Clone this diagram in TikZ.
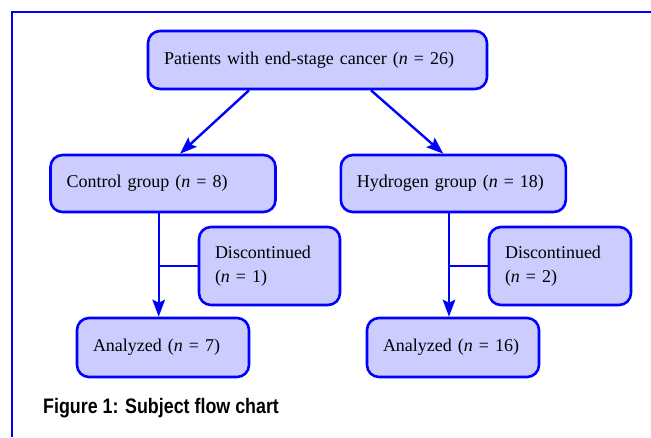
\documentclass[tikz,border=0pt]{standalone}
\usepackage{fontspec}
\setmainfont{Liberation Serif}
\newfontfamily\capfont[FakeStretch=0.85]{Liberation Sans}
\usepackage{tikz}
\usetikzlibrary{arrows.meta}

\definecolor{flowblue}{RGB}{0,0,255}
\definecolor{flowfill}{RGB}{204,204,255}

\tikzset{
    box/.style={draw=flowblue, fill=flowfill, line width=2.6pt, rounded corners=12pt,
        inner xsep=16pt, align=left, font=\fontsize{18}{24}\selectfont},
    link/.style={draw=flowblue, line width=2.4pt}
}

\begin{document}
\begin{tikzpicture}[>={Stealth[length=17pt, width=12.5pt, inset=3pt]}, x=1pt, y=-1pt]
    \useasboundingbox (0,0) rectangle (651,437);
    \draw[flowblue, line width=1.8pt] (651,12.3) -- (11.7,12.3) -- (11.7,437);

    \node[box, text width=307pt, minimum height=58pt] (patients) at (317.5,60) {Patients with end-stage cancer (\textit{n} = 26)};
    \node[box, text width=193pt, minimum height=57pt] (control) at (163,183.5) {Control group (\textit{n} = 8)};
    \node[box, text width=193pt, minimum height=57pt] (hydrogen) at (453.3,183.5) {Hydrogen group (\textit{n} = 18)};
    \node[box, text width=109pt, minimum height=78pt] (discA) at (269.5,266) {Discontinued\\(\textit{n} = 1)};
    \node[box, text width=110pt, minimum height=78pt] (discB) at (560,266) {Discontinued\\(\textit{n} = 2)};
    \node[box, text width=140pt, minimum height=59pt] (analyzedA) at (163,347.5) {Analyzed (\textit{n} = 7)};
    \node[box, text width=140pt, minimum height=59pt] (analyzedB) at (453,347.5) {Analyzed (\textit{n} = 16)};

    \draw[link, ->] ([xshift=-68.5pt]patients.south) -- ([xshift=17pt]control.north);
    \draw[link, ->] ([xshift=53.5pt]patients.south) -- ([xshift=-10pt]hydrogen.north);

    % stems under the two groups
    \coordinate (stemA) at ([xshift=-4.3pt]control.south);
    \coordinate (stemB) at ([xshift=-4.3pt]hydrogen.south);
    \draw[link, ->] (stemA) -- (stemA |- analyzedA.north);
    \draw[link] (discA.west) -- (discA.west -| stemA);
    \draw[link, ->] (stemB) -- (stemB |- analyzedB.north);
    \draw[link] (discB.west) -- (discB.west -| stemB);

    \node[anchor=west, inner sep=0pt, font=\capfont\bfseries\fontsize{21}{24}\selectfont] (caption) at (43,408) {Figure 1: Subject flow chart};
\end{tikzpicture}
\end{document}
